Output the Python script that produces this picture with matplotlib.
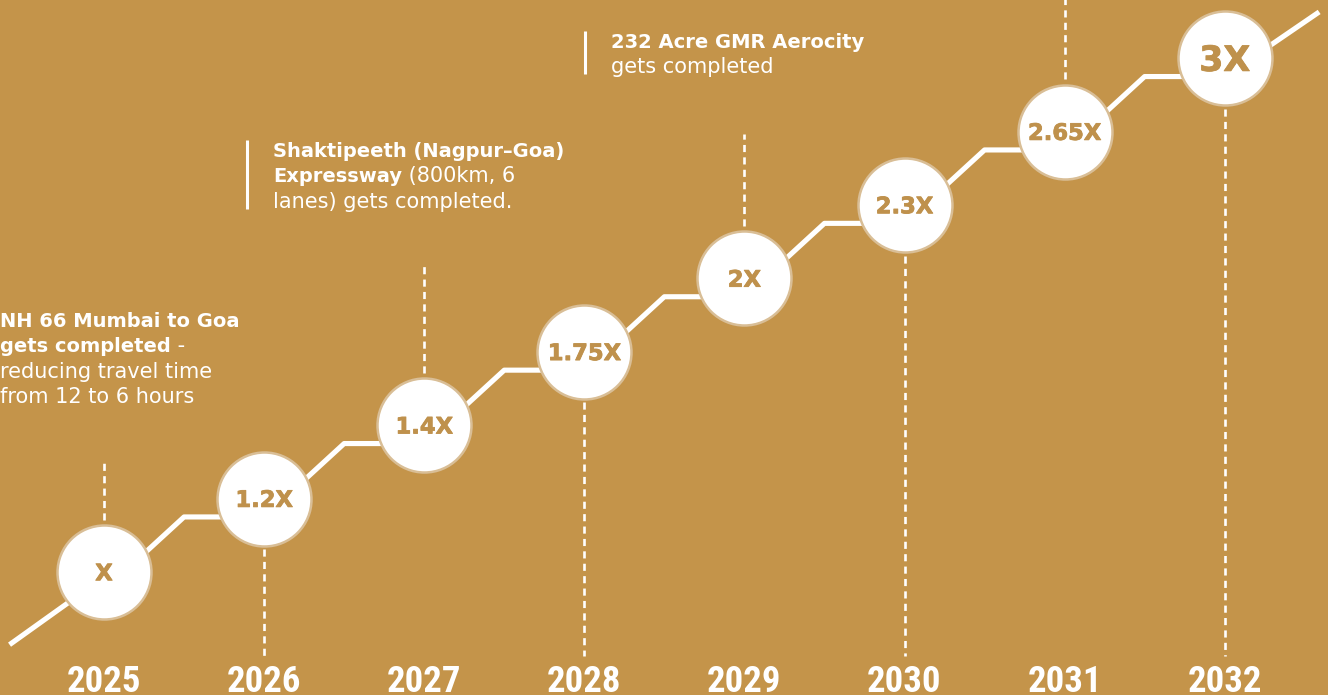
import matplotlib.pyplot as plt
import matplotlib.patheffects as pe
import numpy as np

# timeline data
years = [2025, 2026, 2027, 2028, 2029, 2030, 2031, 2032]
multiples = ['X', '1.2X', '1.4X', '1.75X', '2X', '2.3X', '2.65X', '3X']
level = [0, 1, 2, 3, 4, 5, 6, 7]
guide_dir = ['up', 'down', 'up', 'down', 'up', 'down', 'up', 'down']
guide_top = [1.5, None, 4.22, None, 5.97, None, 7.8, None]

notes = [
    # (anchor px x, first baseline px y, bar?, [(bold, regular), ...])
    (0, 327, False, [('NH 66 Mumbai to Goa', ''),
                     ('gets completed', ' -'),
                     ('', 'reducing travel time'),
                     ('', 'from 12 to 6 hours')]),
    (273, 157, True, [('Shaktipeeth (Nagpur\u2013Goa)', ''),
                      ('Expressway', ' (800km, 6'),
                      ('', 'lanes) gets completed.')]),
    (611, 48, True, [('232 Acre GMR Aerocity', ''),
                     ('', 'gets completed')]),
]

BG = '#C4944A'
GOLD_TXT = '#BF914C'
W, H, DPI = 1328, 695, 100

# pixel <-> data scale (schematic staircase)
X0, Y0 = 104, 572
SX, SY = 160.1, 73.4


def px(x, y):
    return 2025 + (x - X0) / SX, (Y0 - y) / SY


fig = plt.figure(figsize=(W / DPI, H / DPI), dpi=DPI, facecolor=BG)
ax = fig.add_axes([0, 0, 1, 1])
ax.set_facecolor(BG)
x_lo, y_hi = px(0, 0)
x_hi, y_lo = px(W, H)
ax.set_xlim(x_lo, x_hi)
ax.set_ylim(y_lo, y_hi)
ax.axis('off')

# staircase line
drop = 0.25
xs = [years[0] - 0.59, years[0]]
ys = [level[0] - 0.99, level[0] - 0.07]
for i in range(len(years)):
    xs.append(years[i]); ys.append(level[i] - drop)
    if i < len(years) - 1:
        xs.append(years[i] + 0.5); ys.append(level[i + 1] - drop)
xs.append(years[-1] + 0.59); ys.append(level[-1] + 0.63)
ax.plot(xs, ys, color='white', lw=3.7, solid_capstyle='butt', zorder=2)

# dotted guides
r_lv = 47 / SY
bottom = px(0, 656)[1]
for yr, lv, d, top in zip(years, level, guide_dir, guide_top):
    if d == 'up':
        ax.plot([yr, yr], [lv + r_lv + 0.07, top], color='white', lw=1.9,
                linestyle=(0, (2.7, 2.0)), zorder=1)
    else:
        ax.plot([yr, yr], [lv - r_lv - 0.05, bottom], color='white', lw=1.9,
                linestyle=(0, (2.7, 2.0)), zorder=1)

# circles
diam_pt = 2 * 47 * 72 / DPI
ax.scatter(years, level, s=diam_pt ** 2, color='white', edgecolor='#D9BE96',
           linewidth=1.8, zorder=3)

heavy = [pe.withStroke(linewidth=0.6, foreground=GOLD_TXT)]
for yr, lv, lab in zip(years, level, multiples):
    size = 25 if lab == '3X' else 16.3
    ax.annotate(lab, (yr, lv), xytext=(0, -0.365 * size), textcoords='offset points',
                ha='center', va='baseline', fontsize=size, fontweight='bold',
                family=['DejaVu Sans'], color=GOLD_TXT, zorder=4,
                path_effects=heavy)

# year labels
narrow = ['Liberation Sans Narrow', 'Roboto Condensed', 'DejaVu Sans Condensed',
          'Roboto']
for yr in years:
    ax.text(yr, px(0, 692)[1], str(yr), ha='center', va='baseline', fontsize=26.5,
            fontweight='bold', fontstretch='condensed', family=narrow,
            color='white')

# notes
fig.canvas.draw()
renderer = fig.canvas.get_renderer()
fs_b, fs_r = 14.0, 15.0
fam = ['DejaVu Sans']
for nx, ny, bar, lines in notes:
    for k, (b, r) in enumerate(lines):
        x, y = px(nx, ny + k * 25.3)
        off = 0
        if b:
            t = ax.text(x, y, b, fontsize=fs_b, fontweight='bold', family=fam,
                        color='white', va='baseline', ha='left')
            off = t.get_window_extent(renderer).width * 72 / DPI
        if r:
            ax.annotate(r, (x, y), xytext=(off, 0), textcoords='offset points',
                        fontsize=fs_r, family=fam, color='white', va='baseline',
                        ha='left')
    if bar:
        bx = nx - 26
        (x1, y1), (x2, y2) = px(bx, ny - 17), px(bx, ny + (len(lines) - 1) * 25.3 + 1)
        ax.plot([x1, x2], [y1, y2], color='white', lw=2.2, solid_capstyle='butt')

fig.savefig('out.png', dpi=DPI, facecolor=BG)
